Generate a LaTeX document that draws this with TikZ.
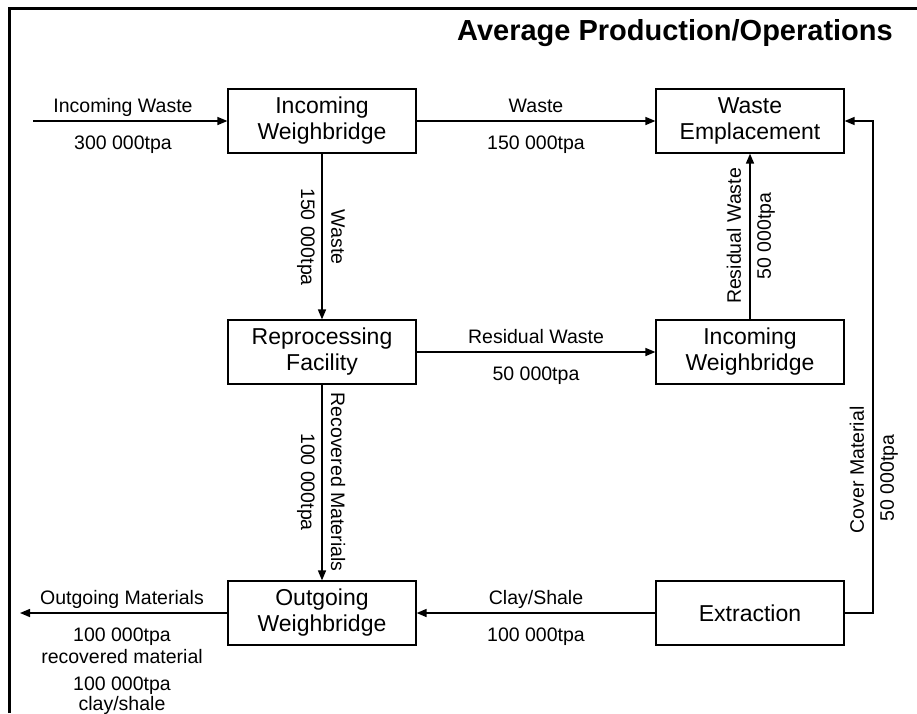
\documentclass[tikz,border=0pt]{standalone}
\usepackage{fontspec}
\setmainfont{Liberation Sans}
\usetikzlibrary{arrows.meta}
\begin{document}
\begin{tikzpicture}[x=1pt,y=-1pt,
  stage/.style={draw, line width=1.2pt, minimum width=188pt, minimum height=64pt,
    align=center, inner sep=0pt, font=\fontsize{23}{26}\selectfont},
  lbl/.style={inner sep=0pt, font=\fontsize{19.5}{22}\selectfont, align=center},
  flow/.style={line width=1.5pt, -{Triangle[length=10pt,width=8pt]}},
  frame/.style={line width=3pt}]
\useasboundingbox (0,0) rectangle (917,713);
% frame
\draw[frame] (9,713) -- (9,8) -- (917,8);
% title
\node[anchor=east, inner sep=0pt, font=\bfseries\fontsize{29}{34}\selectfont] (title) at (893,33) {Average Production/Operations};
% boxes
\node[stage] (iw) at (322,121) {Incoming\\Weighbridge};
\node[stage] (we) at (750,121) {Waste\\Emplacement};
\node[stage] (rf) at (322,352) {Reprocessing\\Facility};
\node[stage] (iw2) at (750,352) {Incoming\\Weighbridge};
\node[stage] (ow) at (322,613) {Outgoing\\Weighbridge};
\node[stage] (ex) at (750,613) {Extraction};
% free ends
\coordinate (inw) at (33,121);
\coordinate (outm) at (20,613);
\coordinate (c1) at (873,613);
\coordinate (c2) at (873,121);
% connectors
\draw[flow] (inw) -- (iw.west);
\draw[flow] (iw.east) -- (we.west);
\draw[flow] (iw.south) -- (rf.north);
\draw[flow] (rf.east) -- (iw2.west);
\draw[flow] (iw2.north) -- (we.south);
\draw[flow] (rf.south) -- (ow.north);
\draw[flow] (ex.west) -- (ow.east);
\draw[flow] (ow.west) -- (outm);
\draw[flow] (ex.east) -- (c1) -- (c2) -- (we.east);
% horizontal labels
\node[lbl, anchor=base] (l1) at (123,112) {Incoming Waste};
\node[lbl, anchor=north] (l2) at (123,136) {300 000tpa};
\node[lbl, anchor=base] (l3) at (536,112) {Waste};
\node[lbl, anchor=north] (l4) at (536,136) {150 000tpa};
\node[lbl, anchor=base] (l5) at (536,343) {Residual Waste};
\node[lbl, anchor=north] (l6) at (536,367) {50 000tpa};
\node[lbl, anchor=base] (l7) at (536,604) {Clay/Shale};
\node[lbl, anchor=north] (l8) at (536,628) {100 000tpa};
\node[lbl, anchor=base] (l9) at (122,604) {Outgoing Materials};
\node[lbl, anchor=base] (l10) at (122,641) {100 000tpa};
\node[lbl, anchor=base] (l11) at (122,663) {recovered material};
\node[lbl, anchor=base] (l12) at (122,690) {100 000tpa};
\node[lbl, anchor=base] (l13) at (122,710) {clay/shale};
% vertical labels
\node[lbl, rotate=-90] (v1) at (338,237) {Waste};
\node[lbl, rotate=-90] (v2) at (306,237) {150 000tpa};
\node[lbl, rotate=-90] (v3) at (338,482) {Recovered Materials};
\node[lbl, rotate=-90] (v4) at (306,482) {100 000tpa};
\node[lbl, rotate=90] (v5) at (734,236) {Residual Waste};
\node[lbl, rotate=90] (v6) at (766,236) {50 000tpa};
\node[lbl, rotate=90] (v7) at (857,470) {Cover Material};
\node[lbl, rotate=90] (v8) at (889,478) {50 000tpa};
\end{tikzpicture}
\end{document}
